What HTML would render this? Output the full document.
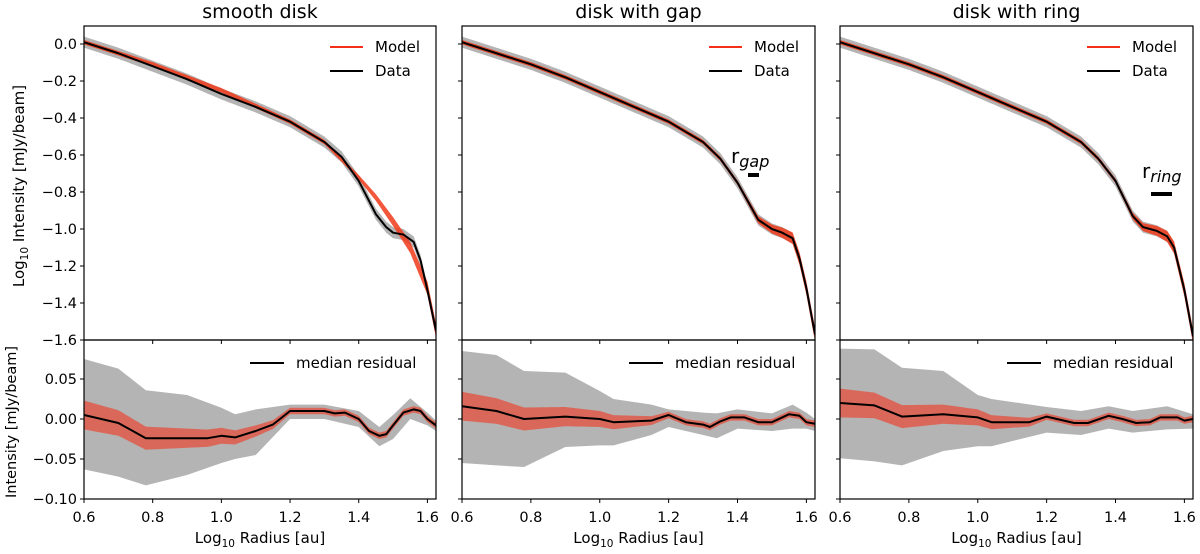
<!DOCTYPE html>
<html><head><meta charset="utf-8"><style>
body{margin:0;background:#fff;width:1200px;height:549px;overflow:hidden}
svg{font-family:"DejaVu Sans","Liberation Sans",sans-serif}
</style></head><body>
<svg id="fig" width="1200" height="549"></svg>
<script>
// ---- data ----
const panelTitles = ["smooth disk", "disk with gap", "disk with ring"];
const xTicks = [0.6, 0.8, 1.0, 1.2, 1.4, 1.6];
const yTopTicks = [0.0, -0.2, -0.4, -0.6, -0.8, -1.0, -1.2, -1.4, -1.6];
const yBotTicks = [0.05, 0.00, -0.05, -0.10];
// top profiles
const dataX0 = [0.6,0.7,0.8,0.9,1.0,1.1,1.2,1.3,1.35,1.4,1.45,1.48,1.5,1.53,1.56,1.58,1.6,1.625];
const dataY0 = [0.01,-0.05,-0.12,-0.19,-0.27,-0.34,-0.42,-0.53,-0.61,-0.74,-0.92,-0.99,-1.02,-1.03,-1.07,-1.17,-1.33,-1.55];
const modelX0 = [0.6,0.8,1.0,1.2,1.3,1.4,1.45,1.5,1.55,1.6,1.625];
const modelY0 = [0.01,-0.11,-0.25,-0.42,-0.53,-0.72,-0.83,-0.96,-1.1,-1.32,-1.55];
const dataX1 = [0.6,0.7,0.8,0.9,1.0,1.1,1.2,1.3,1.35,1.4,1.43,1.46,1.5,1.53,1.56,1.58,1.6,1.625];
const dataY1 = [0.01,-0.05,-0.11,-0.18,-0.26,-0.34,-0.42,-0.53,-0.62,-0.75,-0.85,-0.95,-1.0,-1.02,-1.05,-1.16,-1.32,-1.57];
const dataX2 = [0.6,0.7,0.8,0.9,1.0,1.1,1.2,1.3,1.35,1.4,1.45,1.48,1.52,1.55,1.57,1.6,1.625];
const dataY2 = [0.01,-0.05,-0.11,-0.18,-0.26,-0.34,-0.42,-0.53,-0.62,-0.74,-0.93,-0.99,-1.01,-1.04,-1.1,-1.33,-1.58];
// residuals
const resX0 = [0.6,0.7,0.78,0.9,0.96,1.0,1.04,1.1,1.15,1.2,1.3,1.33,1.36,1.4,1.43,1.46,1.48,1.5,1.53,1.56,1.58,1.6,1.625];
const resY0 = [0.005,-0.005,-0.024,-0.024,-0.024,-0.021,-0.023,-0.015,-0.007,0.01,0.01,0.007,0.008,0.0,-0.015,-0.021,-0.019,-0.008,0.008,0.012,0.01,0.0,-0.008];
const grayX0 = [0.6,0.7,0.78,0.9,1.0,1.04,1.1,1.2,1.3,1.4,1.46,1.5,1.55,1.6,1.625];
const grayUp0 = [0.075,0.063,0.036,0.03,0.014,0.006,0.012,0.018,0.018,0.01,-0.01,0.005,0.026,0.008,-0.002];
const grayLo0 = [-0.063,-0.072,-0.083,-0.07,-0.055,-0.05,-0.045,0.0,0.0,-0.01,-0.034,-0.025,0.0,-0.008,-0.015];
const resX1 = [0.6,0.7,0.78,0.9,1.0,1.04,1.15,1.2,1.25,1.3,1.32,1.35,1.38,1.42,1.46,1.5,1.55,1.58,1.6,1.625];
const resY1 = [0.016,0.01,0.0,0.003,0.0,-0.004,-0.002,0.005,-0.004,-0.007,-0.01,-0.003,0.002,0.002,-0.004,-0.004,0.006,0.004,-0.004,-0.006];
const grayX1 = [0.6,0.7,0.78,0.9,1.0,1.04,1.15,1.2,1.3,1.34,1.4,1.5,1.56,1.6,1.625];
const grayUp1 = [0.085,0.08,0.06,0.058,0.035,0.025,0.018,0.012,0.008,0.007,0.012,0.007,0.018,0.008,0.0];
const grayLo1 = [-0.055,-0.058,-0.06,-0.035,-0.033,-0.033,-0.02,-0.01,-0.02,-0.024,-0.012,-0.015,-0.012,-0.012,-0.015];
const resX2 = [0.6,0.7,0.78,0.9,1.0,1.04,1.15,1.2,1.28,1.32,1.38,1.42,1.46,1.5,1.53,1.58,1.6,1.625];
const resY2 = [0.02,0.017,0.003,0.006,0.002,-0.004,-0.004,0.003,-0.005,-0.005,0.004,0.0,-0.005,-0.004,0.002,0.002,-0.002,0.0];
const grayX2 = [0.6,0.7,0.78,0.9,1.0,1.04,1.2,1.3,1.38,1.45,1.55,1.625];
const grayUp2 = [0.088,0.087,0.064,0.06,0.03,0.025,0.015,0.01,0.016,0.01,0.016,0.006];
const grayLo2 = [-0.049,-0.053,-0.058,-0.04,-0.034,-0.034,-0.017,-0.02,-0.012,-0.017,-0.013,-0.012];
// red band half-width for residuals
const redX = [0.6,0.8,1.0,1.2,1.625];
const redW = [0.018,0.014,0.01,0.004,0.004];

const panels = [
 {L:84,R:436,dx:dataX0,dy:dataY0,mx:modelX0,my:modelY0,rx:resX0,ry:resY0,gx:grayX0,gu:grayUp0,gl:grayLo0},
 {L:462,R:815,dx:dataX1,dy:dataY1,mx:dataX1,my:dataY1,rx:resX1,ry:resY1,gx:grayX1,gu:grayUp1,gl:grayLo1},
 {L:840,R:1193,dx:dataX2,dy:dataY2,mx:dataX2,my:dataY2,rx:resX2,ry:resY2,gx:grayX2,gu:grayUp2,gl:grayLo2}
];
const NS="http://www.w3.org/2000/svg";
const svg=document.getElementById('fig');
function el(tag,attrs,parent){const e=document.createElementNS(NS,tag);for(const k in attrs)e.setAttribute(k,attrs[k]);(parent||svg).appendChild(e);return e;}
function interp(xs,ys,x){if(x<=xs[0])return ys[0];for(let i=1;i<xs.length;i++){if(x<=xs[i]){const t=(x-xs[i-1])/(xs[i]-xs[i-1]);return ys[i-1]+t*(ys[i]-ys[i-1]);}}return ys[ys.length-1];}
const TOP=26,MID=340,BOT=499;
function yTop(v){return 44+(-v)*185;}
function yBot(v){return 419-v*800;}
const FS=14.5;
panels.forEach((p,i)=>{
 const xS=v=>p.L+(v-0.6)*(p.R-p.L)/1.025;
 const g=el('g',{});
 
 
 const cid='c'+i;
 const cp=el('clipPath',{id:cid},g);el('rect',{x:p.L,y:TOP,width:p.R-p.L,height:BOT-TOP},cp);
 const pg=el('g',{'clip-path':'url(#'+cid+')'},g);
 const xs=[];for(let x=0.6;x<=1.63;x+=0.005)xs.push(x);
 let up=xs.map(x=>xS(x)+','+yTop(interp(p.dx,p.dy,x)+0.03)).join(' ');
 let lo=xs.slice().reverse().map(x=>xS(x)+','+yTop(interp(p.dx,p.dy,x)-0.03)).join(' ');
 const gb=el('polygon',{points:up+' '+lo,fill:'#b4b4b4'},pg);
 
 
 const w=x=>0.012+Math.max(0,x-1.4)*0.12;
 up=xs.map(x=>xS(x)+','+yTop(interp(p.mx,p.my,x)+w(x))).join(' ');
 lo=xs.slice().reverse().map(x=>xS(x)+','+yTop(interp(p.mx,p.my,x)-w(x))).join(' ');
 const mb=el('polygon',{points:up+' '+lo,fill:'#f03a1a','fill-opacity':0.85},pg);
 
 
 const dl=el('polyline',{points:p.dx.map((x,k)=>xS(x)+','+yTop(p.dy[k])).join(' '),fill:'none',stroke:'#000','stroke-width':2,'stroke-linejoin':'round'},pg);
 
 
 up=p.gx.map((x,k)=>xS(x)+','+yBot(p.gu[k])).join(' ');
 lo=p.gx.slice().reverse().map((x,k)=>xS(x)+','+yBot(p.gl[p.gx.length-1-k])).join(' ');
 const rg=el('polygon',{points:up+' '+lo,fill:'#b4b4b4'},pg);
 
 
 up=xs.map(x=>xS(x)+','+yBot(interp(p.rx,p.ry,x)+interp(redX,redW,x))).join(' ');
 lo=xs.slice().reverse().map(x=>xS(x)+','+yBot(interp(p.rx,p.ry,x)-interp(redX,redW,x))).join(' ');
 const rr=el('polygon',{points:up+' '+lo,fill:'#d9685a'},pg);
 
 
 const rl=el('polyline',{points:p.rx.map((x,k)=>xS(x)+','+yBot(p.ry[k])).join(' '),fill:'none',stroke:'#000','stroke-width':2,'stroke-linejoin':'round'},pg);
 
 
 el('rect',{x:p.L,y:TOP,width:p.R-p.L,height:MID-TOP,fill:'none',stroke:'#000','stroke-width':1.2},g);
 el('rect',{x:p.L,y:MID,width:p.R-p.L,height:BOT-MID,fill:'none',stroke:'#000','stroke-width':1.2},g);
 xTicks.forEach(t=>{const x=xS(t);
  el('line',{x1:x,x2:x,y1:MID,y2:MID+4,stroke:'#000'},g);
  el('line',{x1:x,x2:x,y1:BOT,y2:BOT+4,stroke:'#000'},g);
  const tl=el('text',{x:x,y:BOT+23,'text-anchor':'middle','font-size':FS},g);tl.textContent=t.toFixed(1);
  
  
 });
 yTopTicks.forEach(t=>{const y=yTop(t);el('line',{x1:p.L-4,x2:p.L,y1:y,y2:y,stroke:'#000'},g);
  if(i===0){const tl=el('text',{x:p.L-7,y:y+5,'text-anchor':'end','font-size':FS},g);tl.textContent=(t<0?'\u2212':'')+Math.abs(t).toFixed(1);
  
  }});
 yBotTicks.forEach(t=>{const y=yBot(t);el('line',{x1:p.L-4,x2:p.L,y1:y,y2:y,stroke:'#000'},g);
  if(i===0){const tl=el('text',{x:p.L-7,y:y+5,'text-anchor':'end','font-size':FS},g);tl.textContent=(t<0?'\u2212':'')+Math.abs(t).toFixed(2);
  
  }});
 const tt=el('text',{x:(p.L+p.R)/2,y:18,'text-anchor':'middle','font-size':19},g);tt.textContent=panelTitles[i];
 
 
 const xl=el('text',{x:(p.L+p.R)/2,y:543,'text-anchor':'middle','font-size':15},g);
 xl.innerHTML='Log<tspan font-size="10.5" dy="4">10</tspan><tspan dy="-4"> Radius [au]</tspan>';
 
 
 const lx=p.R-106;
 el('line',{x1:lx,x2:lx+33,y1:47,y2:47,stroke:'#f5301a','stroke-width':2},g);
 el('line',{x1:lx,x2:lx+33,y1:71,y2:71,stroke:'#000','stroke-width':2},g);
 let t1=el('text',{x:lx+45,y:52,'font-size':15},g);t1.textContent='Model';
 
 
 let t2=el('text',{x:lx+45,y:76,'font-size':15},g);t2.textContent='Data';
 
 
 el('line',{x1:p.R-186,x2:p.R-152,y1:363,y2:363,stroke:'#000','stroke-width':2},g);
 let t3=el('text',{x:p.R-140,y:368,'font-size':15},g);t3.textContent='median residual';
 
 
});
let a=el('text',{x:731,y:163,'font-size':20});a.innerHTML='r<tspan font-style="italic" font-size="16" dy="4">gap</tspan>';


el('line',{x1:748,x2:759,y1:175,y2:175,stroke:'#000','stroke-width':4});
let b=el('text',{x:1142,y:178,'font-size':20});b.innerHTML='r<tspan font-style="italic" font-size="16" dy="4">ring</tspan>';


el('line',{x1:1151,x2:1172,y1:194,y2:194,stroke:'#000','stroke-width':4});
let y1=el('text',{transform:'translate(24,186) rotate(-90)','text-anchor':'middle','font-size':15});
y1.innerHTML='Log<tspan font-size="10.5" dy="4">10</tspan><tspan dy="-4"> Intensity [mJy/beam]</tspan>';


let y2=el('text',{transform:'translate(16,422) rotate(-90)','text-anchor':'middle','font-size':FS});
y2.textContent='Intensity [mJy/beam]';


</script>
</body></html>
